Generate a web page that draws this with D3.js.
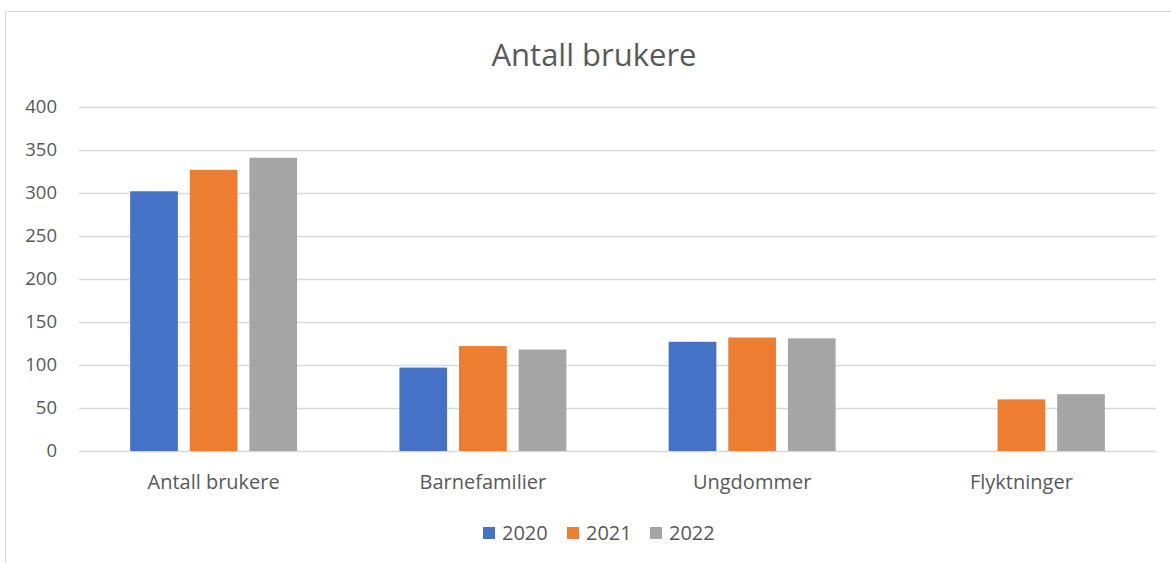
<!DOCTYPE html>
<html>
<head>
<meta charset="utf-8">
<script src="https://cdn.jsdelivr.net/npm/d3@7"></script>
<style>
  body { margin: 0; background: #fff; }
  svg { display: block; font-family: "Open Sans", "Noto Sans", sans-serif; }
</style>
</head>
<body>
<script>
"use strict";

// Data
const categories = ["Antall brukere", "Barnefamilier", "Ungdommer", "Flyktninger"];
const seriesNames = ["2020", "2021", "2022"];
const values2020 = [302, 97, 127, 0];
const values2021 = [327, 122, 132, 60];
const values2022 = [341, 118, 131, 66];
const yTicks = [0, 50, 100, 150, 200, 250, 300, 350, 400];
const colors = ["#4472c4", "#ed7d31", "#a5a5a5"];

const seriesValues = [values2020, values2021, values2022];

// Size
let w = 1171;
let h = 563;
let margin = {left: 79, right: 15, top: 107, bottom: 112};

const svg = d3.select("body")
    .append("svg")
    .attr("width", w)
    .attr("height", h);

// chart frame
svg.append("rect")
    .attr("x", 5.5)
    .attr("y", 11.5)
    .attr("width", w + 10)
    .attr("height", h + 10)
    .attr("fill", "none")
    .attr("stroke", "#d9d9d9");

const x0 = d3.scaleBand()
    .domain(categories)
    .range([margin.left, w - margin.right])
    .padding(0);

const bw = x0.bandwidth();
const x1 = d3.scaleBand()
    .domain(seriesNames)
    .range([bw * 0.19, bw * 0.81])
    .paddingInner(0.2);

const y = d3.scaleLinear()
    .domain([0, 400])
    .range([h - margin.bottom, margin.top]);

// gridlines
svg.append("g")
    .selectAll("line")
    .data(yTicks)
    .enter()
    .append("line")
    .attr("x1", margin.left)
    .attr("x2", w - margin.right)
    .attr("y1", d => Math.round(y(d)) + 0.5)
    .attr("y2", d => Math.round(y(d)) + 0.5)
    .attr("stroke", "#d9d9d9")
    .attr("stroke-width", 1.3);

// y tick labels
svg.append("g")
    .selectAll("text")
    .data(yTicks)
    .enter()
    .append("text")
    .attr("x", 57)
    .attr("y", d => y(d))
    .attr("dy", "0.35em")
    .attr("text-anchor", "end")
    .attr("fill", "#595959")
    .attr("font-size", "18.5px")
    .text(d => d);

// bars
const rows = [];
categories.forEach((c, i) => {
    seriesNames.forEach((s, j) => {
        rows.push({cat: c, series: s, value: seriesValues[j][i], color: colors[j]});
    });
});

svg.append("g")
    .selectAll("rect")
    .data(rows.filter(d => d.value > 0))
    .enter()
    .append("rect")
    .attr("x", d => x0(d.cat) + x1(d.series))
    .attr("y", d => y(d.value))
    .attr("width", x1.bandwidth())
    .attr("height", d => y(0) - y(d.value))
    .attr("fill", d => d.color);

// category labels
svg.append("g")
    .selectAll("text")
    .data(categories)
    .enter()
    .append("text")
    .attr("x", d => x0(d) + bw / 2)
    .attr("y", 489)
    .attr("text-anchor", "middle")
    .attr("fill", "#595959")
    .attr("font-size", "20px")
    .text(d => d);

// title
svg.append("text")
    .attr("x", 594)
    .attr("y", 66)
    .attr("text-anchor", "middle")
    .attr("fill", "#595959")
    .attr("font-size", "31px")
    .text("Antall brukere");

// legend
const legendX = [483, 567, 650];
const legend = svg.append("g")
    .selectAll("g")
    .data(seriesNames)
    .enter()
    .append("g")
    .attr("transform", (d, i) => `translate(${legendX[i]}, 533)`);

legend.append("rect")
    .attr("x", 0)
    .attr("y", -6)
    .attr("width", 12)
    .attr("height", 12)
    .attr("fill", (d, i) => colors[i]);

legend.append("text")
    .attr("x", 19)
    .attr("y", 0)
    .attr("dy", "0.35em")
    .attr("fill", "#595959")
    .attr("font-size", "20px")
    .text(d => d);
</script>
</body>
</html>
